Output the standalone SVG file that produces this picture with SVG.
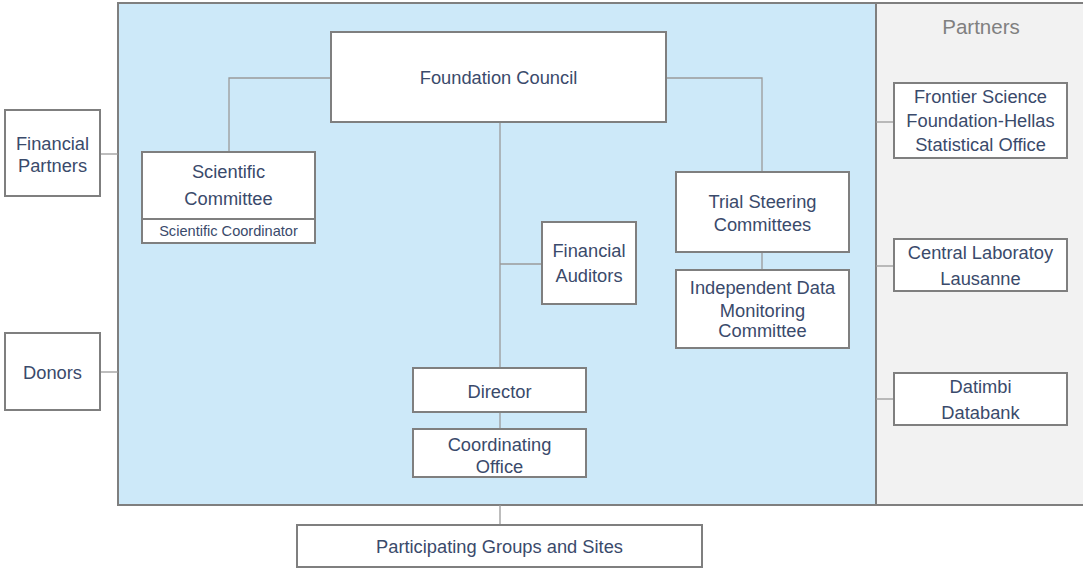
<svg xmlns="http://www.w3.org/2000/svg" width="1083" height="570" viewBox="0 0 1083 570">
<style>
.box{fill:#ffffff;stroke:#7f7f7f;stroke-width:2}
.con{fill:none;stroke:#9a9a9a;stroke-width:1.3}
text{font-family:"Liberation Sans",Arial,sans-serif;font-size:18.3px;fill:#3a4a6b;text-anchor:middle}
.small{font-size:14.6px}
.hdr{font-size:20.5px;fill:#808080}
</style>
<rect width="1083" height="570" fill="#ffffff"/>
<g id="frame">
<rect x="118" y="3" width="758" height="502" fill="#cde9f9" stroke="#7f7f7f" stroke-width="2"/>
<rect x="876" y="3" width="210" height="502" fill="#f2f2f2" stroke="#7f7f7f" stroke-width="2"/>
<text class="hdr" x="981" y="34">Partners</text>
</g>
<g id="connectors">
<path class="con" d="M331 78H229V152"/>
<path class="con" d="M666 78H762V172"/>
<path class="con" d="M762 252V270"/>
<path class="con" d="M500 122V368"/>
<path class="con" d="M500 264H542"/>
<path class="con" d="M500 412V429"/>
<path class="con" d="M500 505V525"/>
<path class="con" d="M100 154H118"/>
<path class="con" d="M100 372H118"/>
<path class="con" d="M876 122H894"/>
<path class="con" d="M876 266H894"/>
<path class="con" d="M876 399H894"/>
</g>
<g id="foundation-council"><rect class="box" x="331" y="32" width="335" height="90"/><text x="498.5" y="84">Foundation Council</text></g>
<g id="scientific-committee"><rect class="box" x="142" y="152" width="173" height="91"/><line x1="142" y1="219" x2="315" y2="219" stroke="#7f7f7f" stroke-width="2"/><text x="228.5" y="178">Scientific</text><text x="228.5" y="205">Committee</text><text class="small" x="228.5" y="236">Scientific Coordinator</text></g>
<g id="financial-partners"><rect class="box" x="5" y="110" width="95" height="86"/><text x="52.5" y="150">Financial</text><text x="52.5" y="172">Partners</text></g>
<g id="donors"><rect class="box" x="5" y="333" width="95" height="77"/><text x="52.5" y="379">Donors</text></g>
<g id="trial-steering"><rect class="box" x="676" y="172" width="173" height="80"/><text x="762.5" y="208">Trial Steering</text><text x="762.5" y="231">Committees</text></g>
<g id="idmc"><rect class="box" x="676" y="270" width="173" height="78"/><text x="762.5" y="294">Independent Data</text><text x="762.5" y="317">Monitoring</text><text x="762.5" y="337">Committee</text></g>
<g id="financial-auditors"><rect class="box" x="542" y="222" width="94" height="82"/><text x="589" y="257">Financial</text><text x="589" y="282">Auditors</text></g>
<g id="director"><rect class="box" x="413" y="368" width="173" height="44"/><text x="499.5" y="398">Director</text></g>
<g id="coordinating-office"><rect class="box" x="413" y="429" width="173" height="48"/><text x="499.5" y="451">Coordinating</text><text x="499.5" y="473">Office</text></g>
<g id="participating"><rect class="box" x="297" y="525" width="405" height="42"/><text x="499.5" y="553">Participating Groups and Sites</text></g>
<g id="frontier"><rect class="box" x="894" y="83" width="173" height="75"/><text x="980.5" y="103">Frontier Science</text><text x="980.5" y="127">Foundation-Hellas</text><text x="980.5" y="151">Statistical Office</text></g>
<g id="central-lab"><rect class="box" x="894" y="239" width="173" height="52"/><text x="980.5" y="259">Central Laboratoy</text><text x="980.5" y="285">Lausanne</text></g>
<g id="datimbi"><rect class="box" x="894" y="373" width="173" height="52"/><text x="980.5" y="393">Datimbi</text><text x="980.5" y="419">Databank</text></g>
</svg>
